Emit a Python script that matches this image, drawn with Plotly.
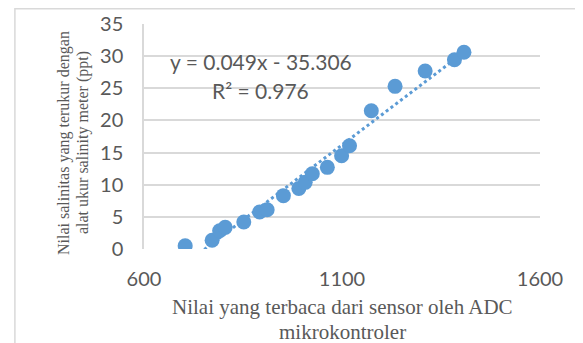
import numpy as np
import plotly.graph_objects as go

adc = [704, 772, 791, 805, 852, 892, 911, 952, 991, 1007, 1025, 1063, 1099, 1119, 1174, 1234, 1310, 1384, 1408]
salinity = [0.5, 1.35, 2.85, 3.37, 4.2, 5.75, 6.1, 8.3, 9.43, 10.37, 11.7, 12.7, 14.5, 16.07, 21.5, 25.3, 27.7, 29.45, 30.6]
eq_text = "y = 0.049x - 35.306"
r2_text = "R² = 0.976"
x_title = ["Nilai yang terbaca dari sensor oleh ADC", "mikrokontroler"]
y_title = ["Nilai salinitas yang terukur dengan", "alat ukur salinity meter (ppt)"]
x_ticks = [600, 1100, 1600]
y_ticks = [0, 5, 10, 15, 20, 25, 30, 35]

slope, intercept = np.polyfit(adc, salinity, 1)
tx = np.linspace(min(adc), max(adc), 200)
ty = slope * tx + intercept

blue = "#5b9bd5"
gray = "#595959"

fig = go.Figure()
fig.add_trace(go.Scatter(x=tx, y=ty, mode="lines",
                         line=dict(color=blue, width=3, dash="dot"),
                         hoverinfo="skip", showlegend=False))
fig.add_trace(go.Scatter(x=adc, y=salinity, mode="markers",
                         marker=dict(color=blue, size=15),
                         showlegend=False))

fig.add_annotation(x=895, y=29.1, text=eq_text, showarrow=False,
                   font=dict(family="Lato", size=21, color=gray))
fig.add_annotation(x=895, y=24.7, text=r2_text, showarrow=False,
                   font=dict(family="Lato", size=21, color=gray))

# axis titles as separate lines
for txt, yp in zip(x_title, [-0.258, -0.369]):
    fig.add_annotation(xref="paper", yref="paper", x=0.5, y=yp, text=txt,
                       showarrow=False, xanchor="center", yanchor="middle",
                       font=dict(family="Liberation Serif", size=21, color=gray))
for txt, xp in zip(y_title, [-0.202, -0.154]):
    fig.add_annotation(xref="paper", yref="paper", x=xp, y=0.471, text=txt,
                       showarrow=False, textangle=-90, xanchor="center", yanchor="middle",
                       font=dict(family="Liberation Serif", size=16, color=gray))

fig.add_shape(type="rect", xref="paper", yref="paper",
              x0=-0.326, x1=1.3, y0=-0.6, y1=1.068,
              line=dict(color="#d9d9d9", width=1.5), fillcolor="rgba(0,0,0,0)")

fig.update_xaxes(range=[600, 1600], tickvals=x_ticks, automargin=False,
                 ticks="outside", ticklen=12, tickcolor="rgba(0,0,0,0)",
                 showgrid=False, zeroline=False, showline=False,
                 tickfont=dict(family="Lato", size=20, color=gray))
fig.update_yaxes(range=[0, 35], tickvals=y_ticks, automargin=False,
                 ticks="outside", ticklen=15, tickcolor="rgba(0,0,0,0)",
                 showgrid=True, gridcolor="#d9d9d9", gridwidth=1.5,
                 zeroline=False, showline=True, linecolor="#d9d9d9", linewidth=1.5,
                 tickfont=dict(family="Lato", size=20, color=gray))

fig.update_layout(width=575, height=335,
                  margin=dict(l=136, r=43, t=16, b=94, autoexpand=False),
                  plot_bgcolor="white", paper_bgcolor="white")

fig.write_html("out.html")
